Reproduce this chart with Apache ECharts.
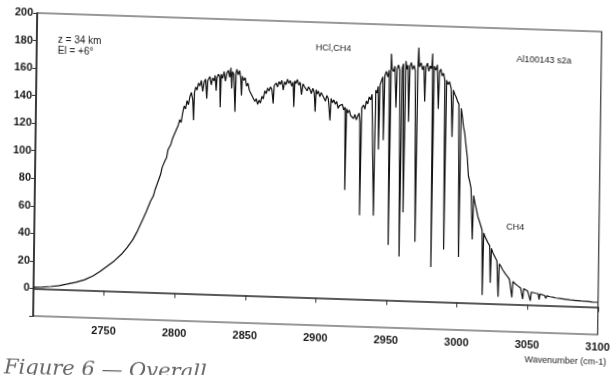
<!DOCTYPE html>
<html>
<head>
<meta charset="utf-8">
<script src="https://cdn.jsdelivr.net/npm/echarts@6/dist/echarts.min.js"></script>
<style>
  html, body { margin: 0; padding: 0; background: #fff; overflow: hidden; }
  /* the scan is slightly skewed, so the chart box is too */
  #chart { width: 615px; height: 375px; transform: matrix(1, 0.033, -0.0133, 1, 0, 0); transform-origin: 307.5px 187.5px; }
  #caption { position: absolute; left: 4px; top: 357px; font: italic 21px 'DejaVu Serif', serif; color: #666; white-space: nowrap; transform: rotate(1.5deg); }
</style>
</head>
<body>
<div id="chart"></div>
<div id="caption">Figure 6 — Overall</div>
<script>
// tick labels
var xTicks = [2750, 2800, 2850, 2900, 2950, 3000, 3050, 3100];
var yTicks = [0, 20, 40, 60, 80, 100, 120, 140, 160, 180, 200];

// spectrum (wavenumber, radiance)
var wavenumber = [
  2700, 2706, 2712, 2718, 2724, 2730, 2736, 2742, 2747, 2752, 2757, 2762, 2766, 2770, 2773, 2776, 2779, 2782, 2784, 2785,
  2787, 2789, 2790, 2792, 2793, 2794, 2796, 2797, 2798, 2799, 2801, 2802, 2803, 2804, 2805, 2806, 2807, 2808, 2809, 2810,
  2811, 2811.7, 2812.2, 2813, 2814, 2815, 2816, 2817, 2818, 2819, 2820, 2820.9, 2821.5, 2823, 2824, 2825, 2826, 2826.7, 2827.5, 2828,
  2829, 2830, 2830.5, 2831, 2832, 2833, 2834, 2835, 2836, 2837, 2837.8, 2838.5, 2839, 2840, 2841, 2841.5, 2842, 2843, 2844, 2844.8,
  2845.5, 2846, 2847, 2848, 2849, 2850, 2851, 2852, 2853, 2854, 2855, 2856, 2857, 2858, 2859, 2860, 2861, 2862, 2863, 2864,
  2865, 2866, 2867, 2868, 2868.6, 2870, 2871, 2872, 2873, 2874, 2875, 2876, 2877, 2878, 2879, 2880, 2881, 2882, 2882.6, 2883.2,
  2884, 2885, 2886, 2887, 2888, 2889, 2890, 2891, 2892, 2893, 2894, 2895, 2896, 2897, 2897.8, 2898.4, 2899, 2900, 2901, 2902,
  2903, 2904, 2905, 2906, 2907, 2908, 2908.4, 2909, 2910, 2911, 2912, 2913, 2914, 2915, 2916, 2917, 2918, 2919, 2919.5, 2920.1,
  2921, 2922, 2923, 2924, 2925, 2926, 2927, 2928, 2929, 2929.6, 2930.2, 2930.8, 2932, 2933, 2934, 2935, 2936, 2937, 2938, 2939,
  2940, 2940.6, 2941.5, 2942.3, 2943, 2943.6, 2944.5, 2945.5, 2946.3, 2946.9, 2948, 2949, 2950, 2950.8, 2951.3, 2952, 2953, 2954, 2955, 2955.6,
  2956.5, 2957.5, 2958.6, 2959.2, 2960, 2961, 2961.7, 2962.5, 2963.3, 2964, 2964.6, 2965.5, 2966.5, 2967.5, 2968.5, 2969.7, 2970.3, 2970.7, 2971.3, 2972.5,
  2973.5, 2974.5, 2975.3, 2975.9, 2977, 2978, 2979, 2980, 2980.6, 2981.2, 2981.8, 2983, 2984, 2985, 2985.6, 2986.5, 2987.5, 2988.5, 2989.4, 2990.1,
  2990.7, 2991.7, 2992.8, 2994, 2995, 2995.6, 2996.6, 2997.6, 2998.6, 2999.6, 3000.7, 3001.3, 3002.2, 3003, 3004, 3005, 3006, 3007, 3008, 3009,
  3010.3, 3010.9, 3012, 3013, 3014, 3015, 3016, 3017.2, 3017.8, 3018.4, 3019.5, 3020.5, 3021.5, 3022.7, 3023.4, 3024, 3025, 3026, 3027, 3028,
  3029.1, 3029.7, 3031, 3032, 3033, 3034, 3035, 3036, 3037, 3038.2, 3038.9, 3039.5, 3041, 3042, 3043, 3044, 3045, 3046.6, 3047.2, 3048,
  3050, 3051, 3052, 3052.6, 3054, 3056, 3057.5, 3058.2, 3058.8, 3060, 3062, 3063, 3063.6, 3066, 3068, 3070, 3073, 3076, 3080, 3084,
  3088, 3092, 3096, 3100
];
var radiance = [
  1, 1.2, 1.8, 2.6, 4, 5.5, 7.5, 10.5, 14, 18, 22, 27, 32, 38, 44, 51, 58, 66, 70, 74,
  80, 86, 91, 96, 98, 104, 108, 112, 111, 117, 122, 126, 124, 131, 136, 134, 140, 137, 143, 146,
  141, 126, 146, 150, 148, 153, 151, 155, 147, 154, 156, 142, 155, 158, 152, 157, 155, 159, 148, 157,
  160, 158, 136, 160, 157, 162, 155, 161, 163, 158, 165, 150, 162, 160, 133, 161, 164, 160, 163, 158,
  145, 159, 156, 158, 152, 154, 149, 150, 145, 146, 141, 143, 139, 142, 140, 145, 143, 149, 147, 151,
  149, 152, 150, 140, 153, 155, 152, 156, 154, 157, 150, 156, 154, 158, 155, 157, 153, 156, 138, 157,
  155, 158, 154, 156, 147, 155, 153, 154, 150, 153, 151, 148, 152, 149, 135, 151, 148, 150, 146, 149,
  147, 148, 143, 147, 145, 146, 129, 145, 142, 144, 141, 143, 138, 140, 139, 141, 137, 139, 79, 138,
  135, 137, 133, 134, 131, 134, 130, 133, 135, 128, 61, 139, 141, 138, 144, 142, 147, 145, 149, 150,
  61, 152, 150, 155, 109, 156, 159, 162, 116, 163, 166, 162, 167, 40, 179, 168, 166, 170, 140, 168,
  171, 167, 32, 169, 172, 64, 174, 168, 171, 130, 170, 173, 168, 171, 167, 43, 172, 184, 170, 173,
  168, 171, 145, 170, 173, 167, 171, 169, 180, 25, 171, 168, 172, 140, 167, 169, 164, 166, 161, 38,
  161, 158, 160, 155, 120, 154, 151, 149, 146, 144, 33, 141, 135, 128, 123, 114, 106, 92, 88, 83,
  46, 78, 72, 68, 63, 60, 57, 53, 6, 51, 48, 47, 44, 42, 15, 40, 37, 36, 33, 31,
  5, 29, 27, 25, 24, 22, 21, 19.5, 18, 17, 5, 16.5, 15, 14.5, 13.5, 13, 12, 4, 11.5, 11,
  10, 9.5, 3, 9.2, 8.8, 8.5, 8.2, 4, 8, 7.6, 7.2, 5, 7, 6.3, 6, 5.6, 5.3, 5, 4.6, 4.3,
  4, 3.8, 3.5, 3.4
];

var chart = echarts.init(document.getElementById('chart'));

var points = wavenumber.map(function (w, i) { return [w, radiance[i]]; });
var labelFont = 'Liberation Sans Narrow, Arial Narrow, sans-serif';
var noteFont = 'Liberation Sans, Arial, sans-serif';

var option = {
  animation: false,
  backgroundColor: '#fff',
  grid: {
    left: 35, right: 9, top: 22, bottom: 50,
    show: true, borderColor: '#333', borderWidth: 1.2, backgroundColor: 'transparent'
  },
  xAxis: {
    type: 'value',
    min: 2700, max: 3100, interval: 50,
    axisLine: { lineStyle: { color: '#222', width: 1.5 } },
    axisTick: { show: true, inside: false, length: 5, lineStyle: { color: '#333' } },
    axisLabel: {
      margin: 7, color: '#1a1a1a', fontSize: 11, fontWeight: 'bold', fontFamily: labelFont,
      formatter: function (v) { return xTicks.indexOf(v) >= 0 ? String(v) : ''; }
    },
    splitLine: { show: false }
  },
  yAxis: {
    type: 'value',
    min: -20, max: 200, interval: 20,
    axisLine: { show: true, lineStyle: { color: '#222', width: 1.5 } },
    axisTick: { show: true, inside: false, length: 4, lineStyle: { color: '#333' } },
    axisLabel: {
      margin: 4, color: '#1a1a1a', fontSize: 11, fontWeight: 'bold', fontFamily: labelFont,
      formatter: function (v) { return yTicks.indexOf(v) >= 0 ? String(v) : ''; }
    },
    splitLine: { show: false }
  },
  series: [{
    type: 'line',
    data: points,
    showSymbol: false,
    sampling: null,
    lineStyle: { color: '#111', width: 1.2 },
    z: 3
  }],
  graphic: [
    { type: 'text', left: 56, top: 43, style: { text: 'z = 34 km\nEl = +6°', fill: '#1a1a1a', font: '10px ' + noteFont, lineHeight: 11 } },
    { type: 'text', left: 314, top: 43, style: { text: 'HCl,CH4', fill: '#1a1a1a', font: '9px ' + noteFont } },
    { type: 'text', left: 515, top: 48, style: { text: 'Al100143 s2a', fill: '#1a1a1a', font: '9px ' + noteFont } },
    { type: 'text', left: 507, top: 216, style: { text: 'CH4', fill: '#1a1a1a', font: '9px ' + noteFont } },
    { type: 'text', left: 527, top: 348, style: { text: 'Wavenumber (cm-1)', fill: '#1a1a1a', font: '9px ' + noteFont } }
  ]
};

chart.setOption(option);
</script>
</body>
</html>
